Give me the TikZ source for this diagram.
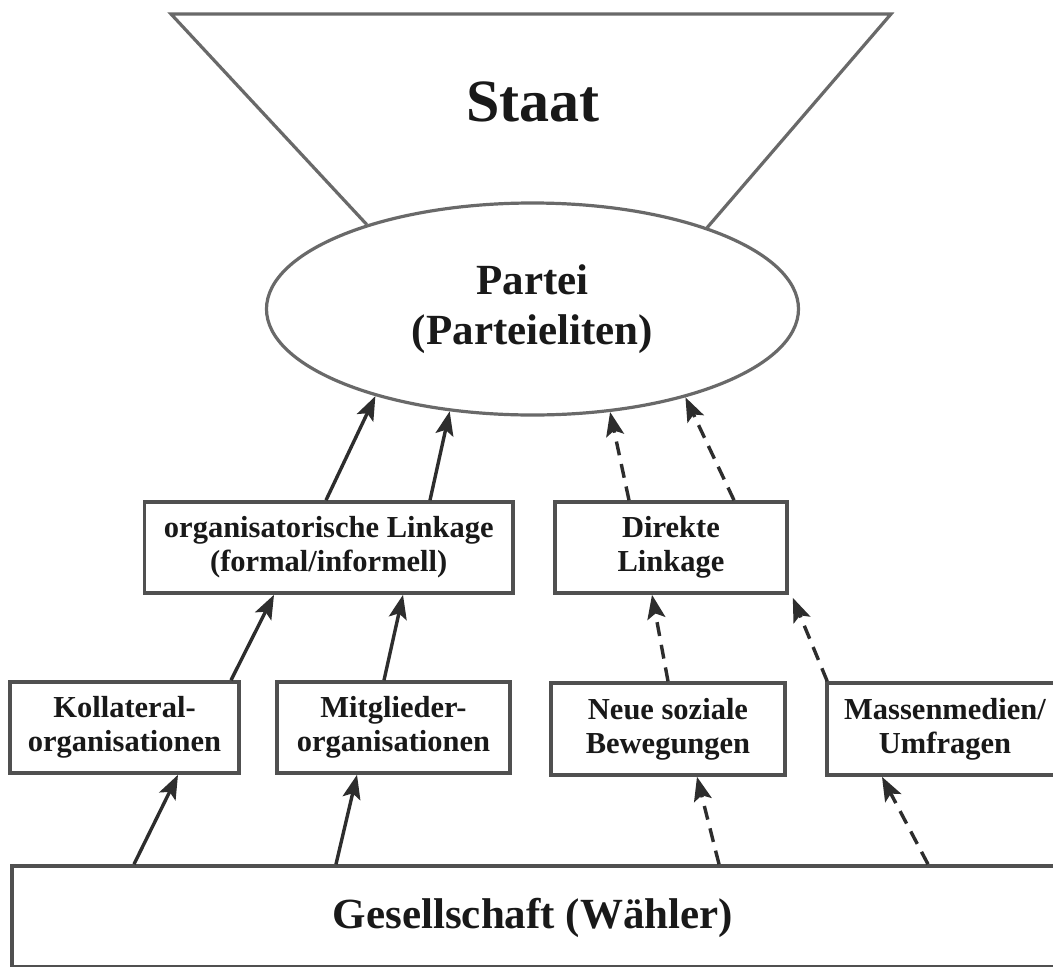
\documentclass[tikz,border=0pt]{standalone}
\usepackage{fontspec}
\setmainfont{Liberation Serif}
\usetikzlibrary{arrows.meta,shapes.geometric}
\definecolor{ink}{RGB}{25,25,25}
\definecolor{boxline}{RGB}{80,80,80}
\definecolor{softline}{RGB}{105,105,105}
\definecolor{arrowink}{RGB}{45,45,45}
\begin{document}
\begin{tikzpicture}[x=1pt,y=-1pt,
  box/.style={draw=boxline,line width=3.6pt,inner sep=0pt,align=center,text=ink,
    minimum height=91pt,font=\bfseries\fontsize{30.5}{34}\selectfont},
  arr/.style={draw=arrowink,line width=3.4pt,-{Stealth[length=24pt,width=18pt,inset=5pt]}},
  darr/.style={arr,dash pattern=on 14pt off 9pt},
  outline/.style={draw=softline,line width=3.2pt},
  bigtext/.style={text=ink,align=center,inner sep=0pt}]
\useasboundingbox (0,0) rectangle (1053,967);
\clip (0,0) rectangle (1053,967);
\fill[white] (0,0) rectangle (1053,967);

% Partei ellipse
\node[ellipse,outline,minimum width=532pt,minimum height=212pt,inner sep=0pt,
  bigtext,font=\bfseries\fontsize{43}{50}\selectfont] (partei) at (532.5,309)
  {Partei\\(Parteieliten)};

% Staat trapezoid
\coordinate (tl) at (171,14);
\coordinate (tr) at (891,14);
\draw[outline,line join=miter] (partei.153.6) -- (tl) -- (tr) -- (partei.25.7);
\node[bigtext,font=\bfseries\fontsize{60}{66}\selectfont] (staat) at (533,102) {Staat};

% middle row
\node[box,minimum width=368.5pt] (org) at (328.75,547.5)
  {organisatorische Linkage\\(formal/informell)};
\node[box,minimum width=232pt] (dir) at (671,547.5) {Direkte\\Linkage};

% lower row
\node[box,minimum width=229pt] (koll) at (124.5,727.5) {Kollateral-\\organisationen};
\node[box,minimum width=233pt] (mitg) at (393.5,727.5) {Mitglieder-\\organisationen};
\node[box,minimum width=234pt,minimum height=92pt] (neue) at (668,729) {Neue soziale\\Bewegungen};
\node[box,minimum width=236pt,minimum height=92pt] (mass) at (945,729) {Massenmedien/\\Umfragen};

% Gesellschaft
\node[draw=boxline,line width=3.6pt,minimum width=1058pt,minimum height=100.5pt,inner sep=0pt]
  (ges) at (541,916.25) {};
\node[bigtext,font=\bfseries\fontsize{43}{50}\selectfont] (gestext) at (533,918)
  {Gesellschaft (Wähler)};

% connectors: middle row -> Partei
\draw[arr] ([xshift=-2.75pt]org.north) -- (partei.209.4);
\draw[arr] ([xshift=101.25pt]org.north) -- (partei.231.6);
\draw[darr] ([xshift=-42pt]dir.north) -- (partei.307.9);
\draw[darr] ([xshift=63pt]dir.north) -- (partei.330.8);

% lower row -> middle row
\draw[arr] ([xshift=106.5pt]koll.north) -- ([xshift=-54.75pt]org.south);
\draw[arr] ([xshift=-9.5pt]mitg.north) -- ([xshift=74.25pt]org.south);
\draw[darr] (neue.north) -- ([xshift=-19pt]dir.south);
\draw[darr] ([xshift=2pt]mass.north west) -- ([xshift=4pt,yshift=-3pt]dir.south east);

% Gesellschaft -> lower row
\draw[arr] ([xshift=-407pt]ges.north) -- ([xshift=53.5pt]koll.south);
\draw[arr] ([xshift=-205pt]ges.north) -- ([xshift=-36.5pt]mitg.south);
\draw[darr] ([xshift=178pt]ges.north) -- ([xshift=29pt]neue.south);
\draw[darr] ([xshift=387pt]ges.north) -- ([xshift=-63pt]mass.south);
\end{tikzpicture}
\end{document}
